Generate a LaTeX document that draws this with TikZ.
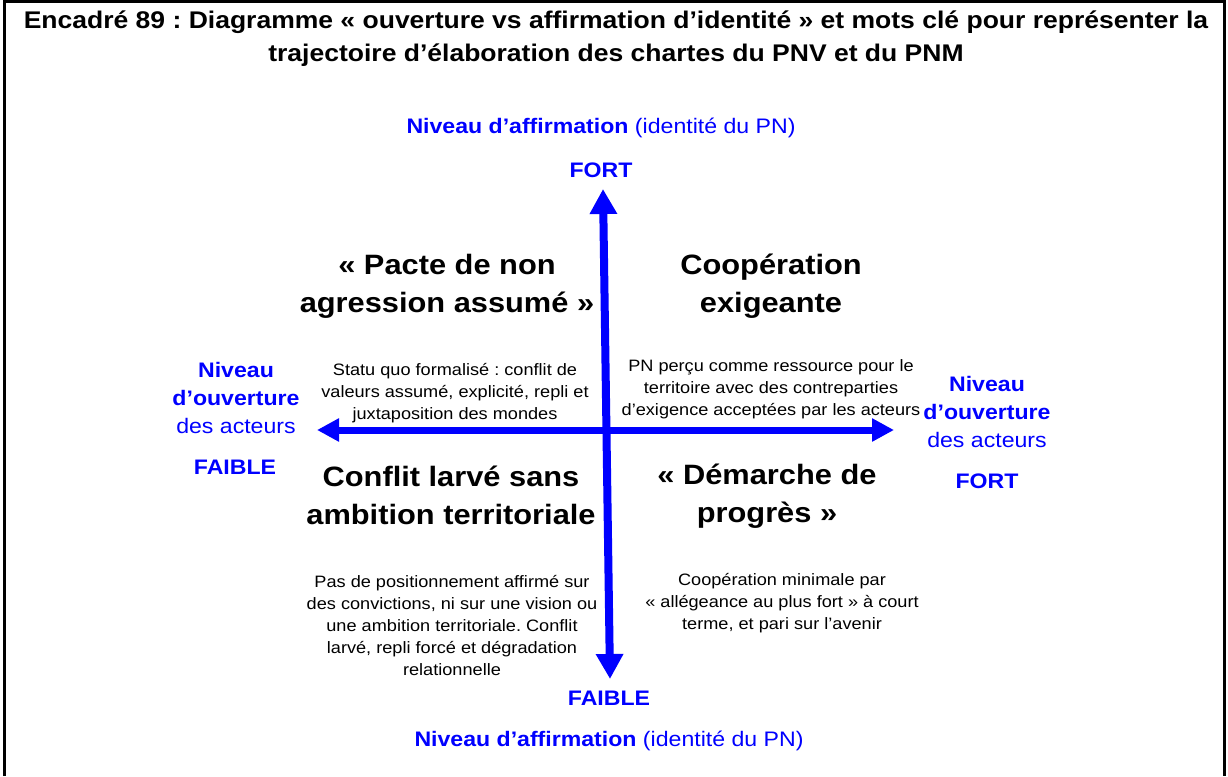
\documentclass[tikz,border=0pt]{standalone}
\usepackage{fontspec}
\setmainfont{Liberation Sans}[FakeStretch=1.1]
\usetikzlibrary{arrows.meta}
\definecolor{axisblue}{RGB}{0,0,255}
\frenchspacing
\tikzset{
  titletext/.style={font=\bfseries\fontsize{24.1}{33}\selectfont, align=center, inner sep=0pt},
  axislabel/.style={text=axisblue, font=\fontsize{21}{28}\selectfont, align=center, inner sep=0pt},
  axisend/.style={text=axisblue, font=\bfseries\fontsize{21}{28}\selectfont, inner sep=0pt},
  quadtitle/.style={font=\bfseries\fontsize{28}{38}\selectfont, align=center, inner sep=0pt},
  quadtext/.style={font=\fontsize{16.5}{22}\selectfont, align=center, inner sep=0pt},
  axisline/.style={draw=axisblue, line width=8pt},
  frameline/.style={draw=black, line width=3pt},
}
\begin{document}
\begin{tikzpicture}[x=1pt,y=-1pt]
\useasboundingbox (0,0) rectangle (1228,776);
% frame
\coordinate (fbl) at (4.5,776);
\coordinate (ftl) at (4.5,2);
\coordinate (ftr) at (1224.5,2);
\coordinate (fbr) at (1224.5,776);
\draw[frameline] (fbl) -- (ftl) -- (ftr) -- (fbr);
% title
\node[titletext] (title) at (616,39) {Encadré 89 : Diagramme « ouverture vs affirmation d’identité » et mots clé pour représenter la\\
trajectoire d’élaboration des chartes du PNV et du PNM};
% axes
\coordinate (vtop) at (603,189);
\coordinate (vbot) at (610,679);
\coordinate (hleft) at (317,430);
\coordinate (hright) at (894,430);
\draw[axisline, {Triangle[width=26pt,length=25pt]}-{Triangle[width=26pt,length=25pt]}] (vbot) -- (vtop);
\draw[axisline, line width=7pt, {Triangle[width=22pt,length=22pt]}-{Triangle[width=22pt,length=22pt]}] (hleft) -- (hright);
% axis labels
\node[axislabel] (toplab) at (601,128) {\textbf{Niveau d’affirmation} (identité du PN)};
\node[axisend] (topfort) at (601,170) {FORT};
\node[axisend] (botfaible) at (609,698) {FAIBLE};
\node[axislabel] (botlab) at (609,741) {\textbf{Niveau d’affirmation} (identité du PN)};
\node[axislabel] (leftlab) at (236,398) {\textbf{Niveau}\\\textbf{d’ouverture}\\des acteurs};
\node[axisend] (leftfaible) at (235,467) {FAIBLE};
\node[axislabel] (rightlab) at (987,412) {\textbf{Niveau}\\\textbf{d’ouverture}\\des acteurs};
\node[axisend] (rightfort) at (987,481) {FORT};
% quadrant titles
\node[quadtitle] (q1) at (447,286) {« Pacte de non\\agression assumé »};
\node[quadtitle] (q2) at (771,286) {Coopération\\exigeante};
\node[quadtitle] (q3) at (451,495) {Conflit larvé sans\\ambition territoriale};
\node[quadtitle] (q4) at (767,496) {« Démarche de\\progrès »};
% quadrant texts
\node[quadtext] (t1) at (455,393) {Statu quo formalisé : conflit de\\valeurs assumé, explicité, repli et\\juxtaposition des mondes};
\node[quadtext] (t2) at (771,389) {PN perçu comme ressource pour le\\territoire avec des contreparties\\d’exigence acceptées par les acteurs};
\node[quadtext] (t3) at (452,625) {Pas de positionnement affirmé sur\\des convictions, ni sur une vision ou\\une ambition territoriale. Conflit\\larvé, repli forcé et dégradation\\relationnelle};
\node[quadtext] (t4) at (782,603) {Coopération minimale par\\« allégeance au plus fort » à court\\terme, et pari sur l’avenir};
\end{tikzpicture}
\end{document}
